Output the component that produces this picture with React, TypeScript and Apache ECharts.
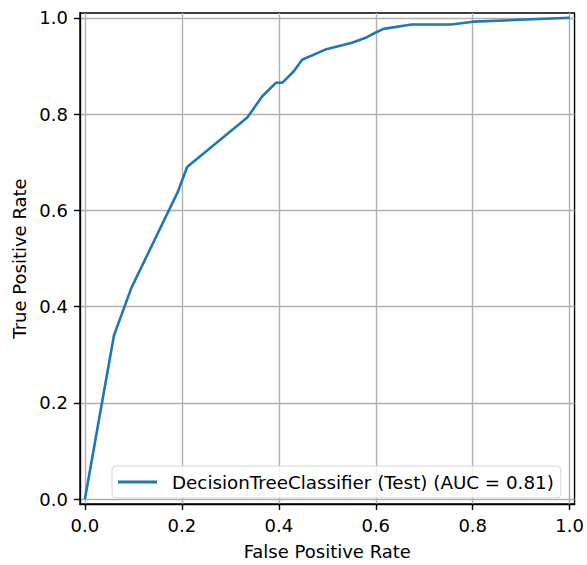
import React, { useEffect, useRef } from "react";
import * as echarts from "echarts";

const fpr = [0, 0.060, 0.096, 0.192, 0.211, 0.335, 0.366, 0.394, 0.407, 0.431, 0.448, 0.496, 0.551, 0.578, 0.599, 0.616, 0.674, 0.756, 0.801, 1.0];
const tpr = [0, 0.340, 0.439, 0.639, 0.690, 0.793, 0.837, 0.865, 0.865, 0.889, 0.913, 0.934, 0.948, 0.958, 0.969, 0.977, 0.986, 0.986, 0.992, 1.0];
const tickValues = [0, 0.2, 0.4, 0.6, 0.8, 1.0];
const seriesName = "DecisionTreeClassifier (Test) (AUC = 0.81)";
const xName = "False Positive Rate";
const yName = "True Positive Rate";

const FONT = "DejaVu Sans";
const FS = 18;

export default function App() {
  const ref = useRef<HTMLDivElement>(null);
  useEffect(() => {
    if (!ref.current) return;
    const chart = echarts.init(ref.current, undefined, { renderer: "svg" });
    const axisCommon = (name: string, gap: number, margin: number) => ({
      type: "value",
      min: -0.01,
      max: 1.01,
      name,
      nameLocation: "middle",
      nameGap: gap,
      nameTextStyle: { fontFamily: FONT, fontSize: FS, color: "#000" },
      axisLine: { show: true, onZero: false, lineStyle: { color: "#000", width: 1.4 } },
      axisTick: { show: true, length: 6, customValues: tickValues, lineStyle: { color: "#000", width: 1.4 } },
      axisLabel: {
        customValues: tickValues,
        fontFamily: FONT,
        fontSize: FS,
        color: "#000",
        margin,
        formatter: (v: number) => v.toFixed(1),
      },
      splitLine: { show: true, lineStyle: { color: "#b0b0b0", width: 1.4 } },
    });
    chart.setOption({
      animation: false,
      backgroundColor: "#fff",
      grid: { left: 80, right: 10, top: 13, bottom: 57, show: true, borderColor: "#000", borderWidth: 1.4 },
      xAxis: axisCommon(xName, 38, 12),
      yAxis: axisCommon(yName, 49, 12),
      legend: {
        left: 112,
        top: 466,
        padding: [7, 7, 7, 6],
        itemWidth: 39,
        itemHeight: 3,
        icon: "rect",
        backgroundColor: "rgba(255,255,255,0.85)",
        borderColor: "#d6d6d6",
        borderWidth: 1,
        borderRadius: 4,
        textStyle: { fontFamily: FONT, fontSize: 18.3, color: "#000", padding: [0, 0, 0, 10] },
        data: [seriesName],
      },
      series: [
        {
          name: seriesName,
          type: "line",
          data: fpr.map((x, i) => [x, tpr[i]]),
          symbol: "none",
          lineStyle: { color: "#1f77b4", width: 2.6 },
          itemStyle: { color: "#1f77b4" },
          clip: false,
        },
      ],
    });
    return () => chart.dispose();
  }, []);
  return <div ref={ref} style={{ position: "absolute", left: 0, top: 0, width: 587, height: 565 }} />;
}
